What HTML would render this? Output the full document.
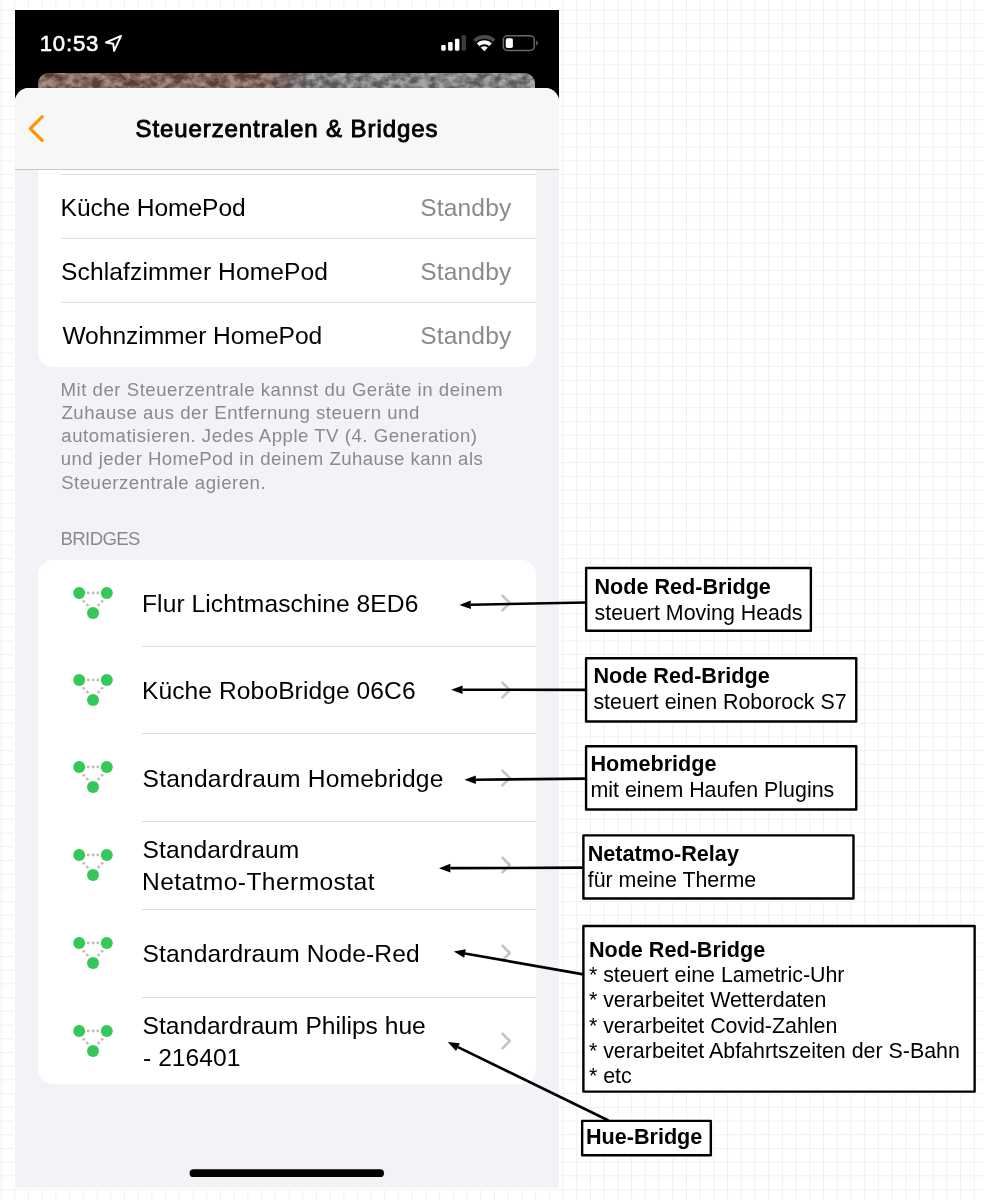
<!DOCTYPE html>
<html lang="de">
<head>
<meta charset="utf-8">
<title>Steuerzentralen &amp; Bridges</title>
<style>
html,body{margin:0;padding:0;}
body{width:984px;height:1200px;position:relative;overflow:hidden;background:#fff;font-family:"Liberation Sans",sans-serif;}
#grid{position:absolute;left:0;top:0;}
#phone{position:absolute;left:15.0px;top:10.0px;width:544px;height:1178px;background:#000;overflow:hidden;box-shadow:0 0 0 1.3px #fff;}
#wall{position:absolute;left:22.8px;top:63.3px;width:497.0px;height:40px;border-radius:11px;background:linear-gradient(100deg,#7e594c 0%,#7c584b 45%,#6a5048 49%,#7c7c7c 53%,#828282 100%);overflow:hidden;}
#sheet{position:absolute;left:0;top:78.4px;width:100%;bottom:0;background:#f2f2f7;border-radius:14px 14px 0 0;overflow:hidden;}
#nav{position:absolute;left:0;top:0;width:100%;height:80.6px;background:#f7f7f7;border-bottom:1px solid #c9c9cc;}
.card{position:absolute;left:23.0px;width:497.7px;background:#fff;}
#c1{top:140.0px;height:217.0px;border-radius:0 0 14.5px 14.5px;}
#c2{top:549.8px;height:524.6px;border-radius:14.5px;}
.t{position:absolute;white-space:nowrap;}
#phone,#notes{will-change:transform;}
.time{-webkit-text-stroke:0.6px #fff;}
.title{-webkit-text-stroke:0.9px #000;}
.sep{position:absolute;height:1px;background:#dcdcde;}
.ic{position:absolute;overflow:visible;}
#ann{position:absolute;left:0;top:0;}
</style>
</head>
<body>
<svg id="grid" width="984" height="1200" viewBox="0 0 984 1200"><path d="M1.10 0V1200M14.81 0V1200M28.51 0V1200M42.22 0V1200M55.93 0V1200M69.64 0V1200M83.34 0V1200M97.05 0V1200M110.76 0V1200M124.46 0V1200M138.17 0V1200M151.88 0V1200M165.58 0V1200M179.29 0V1200M193.00 0V1200M206.70 0V1200M220.41 0V1200M234.12 0V1200M247.83 0V1200M261.53 0V1200M275.24 0V1200M288.95 0V1200M302.65 0V1200M316.36 0V1200M330.07 0V1200M343.77 0V1200M357.48 0V1200M371.19 0V1200M384.90 0V1200M398.60 0V1200M412.31 0V1200M426.02 0V1200M439.72 0V1200M453.43 0V1200M467.14 0V1200M480.84 0V1200M494.55 0V1200M508.26 0V1200M521.97 0V1200M535.67 0V1200M549.38 0V1200M563.09 0V1200M576.79 0V1200M590.50 0V1200M604.21 0V1200M617.91 0V1200M631.62 0V1200M645.33 0V1200M659.04 0V1200M672.74 0V1200M686.45 0V1200M700.16 0V1200M713.86 0V1200M727.57 0V1200M741.28 0V1200M754.98 0V1200M768.69 0V1200M782.40 0V1200M796.11 0V1200M809.81 0V1200M823.52 0V1200M837.23 0V1200M850.93 0V1200M864.64 0V1200M878.35 0V1200M892.05 0V1200M905.76 0V1200M919.47 0V1200M933.18 0V1200M946.88 0V1200M960.59 0V1200M974.30 0V1200M0 10.00H984M0 23.72H984M0 37.43H984M0 51.15H984M0 64.86H984M0 78.58H984M0 92.30H984M0 106.01H984M0 119.73H984M0 133.44H984M0 147.16H984M0 160.88H984M0 174.59H984M0 188.31H984M0 202.02H984M0 215.74H984M0 229.46H984M0 243.17H984M0 256.89H984M0 270.60H984M0 284.32H984M0 298.04H984M0 311.75H984M0 325.47H984M0 339.18H984M0 352.90H984M0 366.62H984M0 380.33H984M0 394.05H984M0 407.76H984M0 421.48H984M0 435.20H984M0 448.91H984M0 462.63H984M0 476.34H984M0 490.06H984M0 503.78H984M0 517.49H984M0 531.21H984M0 544.92H984M0 558.64H984M0 572.36H984M0 586.07H984M0 599.79H984M0 613.50H984M0 627.22H984M0 640.94H984M0 654.65H984M0 668.37H984M0 682.08H984M0 695.80H984M0 709.52H984M0 723.23H984M0 736.95H984M0 750.66H984M0 764.38H984M0 778.10H984M0 791.81H984M0 805.53H984M0 819.24H984M0 832.96H984M0 846.68H984M0 860.39H984M0 874.11H984M0 887.82H984M0 901.54H984M0 915.26H984M0 928.97H984M0 942.69H984M0 956.40H984M0 970.12H984M0 983.84H984M0 997.55H984M0 1011.27H984M0 1024.98H984M0 1038.70H984M0 1052.42H984M0 1066.13H984M0 1079.85H984M0 1093.56H984M0 1107.28H984M0 1121.00H984M0 1134.71H984M0 1148.43H984M0 1162.14H984M0 1175.86H984M0 1189.58H984" stroke="#f0f0f1" stroke-width="1" fill="none"/></svg>
<div id="phone">
  <div id="wall"><svg width="497" height="40" viewBox="0 0 497 40"><filter id="rock" x="0" y="0" width="100%" height="100%" color-interpolation-filters="sRGB"><feTurbulence type="fractalNoise" baseFrequency="0.11 0.14" numOctaves="3" seed="11"/><feColorMatrix type="matrix" values="2.4 0 0 0 -0.7  2.4 0 0 0 -0.7  2.4 0 0 0 -0.7  0 0 0 0 0.3"/></filter><rect width="497" height="40" filter="url(#rock)"/></svg></div>
  <span class="t time" style="left:24.70px;top:19.00px;font-size:22.2px;line-height:29px;letter-spacing:0.798px;color:#fff;">10:53</span>
  <svg class="ic" style="left:88.0px;top:22.0px" width="22" height="22" viewBox="103 32 22 22"><path d="M121.0 35.9L106.0 42.5L113.2 43.7L114.1 50.8Z" fill="none" stroke="#fff" stroke-width="1.95" stroke-linejoin="round"/></svg>
  <svg class="ic" style="left:421.0px;top:20.0px" width="110" height="26" viewBox="436 30 110 26">
    <rect x="441.2" y="45.1" width="4.5" height="5.6" rx="1.1" fill="#fff"/>
    <rect x="448.1" y="42.1" width="4.5" height="8.6" rx="1.1" fill="#fff"/>
    <rect x="454.9" y="38.8" width="4.5" height="11.9" rx="1.1" fill="#fff"/>
    <rect x="461.6" y="35.2" width="4.4" height="15.5" rx="1.1" fill="#3c3c3e"/>
    <path d="M484.3 51.2L473.15 39.45A16.2 16.2 0 0 1 495.45 39.45Z" fill="#4a4a4c"/>
    <path d="M484.3 51.6L475.42 42.24A12.9 12.9 0 0 1 493.18 42.24Z" fill="#000"/>
    <path d="M484.3 51.2L476.73 43.22A11.0 11.0 0 0 1 491.87 43.22Z" fill="#fff"/>
    <path d="M484.3 51.6L479.21 46.23A7.4 7.4 0 0 1 489.39 46.23Z" fill="#000"/>
    <path d="M484.3 51.2L480.86 47.57A5.0 5.0 0 0 1 487.74 47.57Z" fill="#fff"/>
    <rect x="503.3" y="35.8" width="31" height="14.6" rx="4.2" fill="none" stroke="#68686c" stroke-width="1.5"/>
    <rect x="505.7" y="38.2" width="7.2" height="9.8" rx="1.8" fill="#fff"/>
    <path d="M536.2 40.4v5.4a3 3 0 0 0 0-5.4z" fill="#68686c"/>
  </svg>
  <div id="sheet"></div>
  <div class="card" id="c1"></div>
  <div id="navwrap" style="position:absolute;left:0;top:78.4px;width:100%;height:82px;border-radius:14px 14px 0 0;overflow:hidden"><div id="nav"></div></div>
  <svg class="ic" style="left:9.0px;top:100.0px" width="26" height="38" viewBox="24 110 26 38"><path d="M42.2 116.7L30.3 128.55L42.2 140.4" fill="none" stroke="#ff9500" stroke-width="3.3" stroke-linecap="round" stroke-linejoin="round"/></svg>
  <span class="t title" style="left:120.50px;top:103.00px;font-size:24.0px;line-height:31px;letter-spacing:0.906px;color:#000;">Steuerzentralen &amp; Bridges</span>
  <div class="sep" style="left:46.0px;top:164.1px;width:474.7px"></div>
  <div class="sep" style="left:46.0px;top:227.9px;width:474.7px"></div>
  <div class="sep" style="left:46.0px;top:292.0px;width:474.7px"></div>
  <span class="t" style="left:45.60px;top:182.00px;font-size:24.6px;line-height:31px;letter-spacing:-0.066px;color:#000;">Küche HomePod</span><span class="t" style="left:46.10px;top:246.00px;font-size:24.6px;line-height:31px;letter-spacing:0.093px;color:#000;">Schlafzimmer HomePod</span><span class="t" style="left:47.40px;top:310.00px;font-size:24.6px;line-height:31px;letter-spacing:-0.046px;color:#000;">Wohnzimmer HomePod</span>
  <span class="t" style="left:405.20px;top:182.00px;font-size:24.6px;line-height:31px;letter-spacing:0.139px;color:#8a8a8e;">Standby</span><span class="t" style="left:405.20px;top:246.00px;font-size:24.6px;line-height:31px;letter-spacing:0.139px;color:#8a8a8e;">Standby</span><span class="t" style="left:405.20px;top:310.00px;font-size:24.6px;line-height:31px;letter-spacing:0.139px;color:#8a8a8e;">Standby</span>
  <span class="t" style="left:45.50px;top:367.00px;font-size:18.6px;line-height:25px;letter-spacing:0.530px;color:#8a8a8e;">Mit der Steuerzentrale kannst du Geräte in deinem</span><span class="t" style="left:46.50px;top:390.00px;font-size:18.6px;line-height:25px;letter-spacing:0.505px;color:#8a8a8e;">Zuhause aus der Entfernung steuern und</span><span class="t" style="left:46.30px;top:413.00px;font-size:18.6px;line-height:25px;letter-spacing:0.518px;color:#8a8a8e;">automatisieren. Jedes Apple TV (4. Generation)</span><span class="t" style="left:45.80px;top:436.00px;font-size:18.6px;line-height:25px;letter-spacing:0.438px;color:#8a8a8e;">und jeder HomePod in deinem Zuhause kann als</span><span class="t" style="left:46.20px;top:460.00px;font-size:18.6px;line-height:25px;letter-spacing:0.505px;color:#8a8a8e;">Steuerzentrale agieren.</span>
  <span class="t" style="left:45.50px;top:516.00px;font-size:18.6px;line-height:25px;letter-spacing:-0.619px;color:#8a8a8e;">BRIDGES</span>
  <div class="card" id="c2"></div>
  <svg class="ic" style="left:55.70px;top:574.75px" width="44" height="36" viewBox="-22 -18 44 36"><g fill="#bfbfc2"><circle cx="-4.75" cy="-9.95" r="1.45"/><circle cx="0" cy="-9.95" r="1.45"/><circle cx="4.75" cy="-9.95" r="1.45"/><circle cx="-9.2" cy="-1.65" r="1.45"/><circle cx="-5.7" cy="2" r="1.45"/><circle cx="9.1" cy="-1.65" r="1.45"/><circle cx="5.6" cy="2" r="1.45"/></g><g fill="#34c759"><circle cx="-13.8" cy="-10.1" r="6"/><circle cx="13.8" cy="-10.1" r="6"/><circle cx="0" cy="10.1" r="6"/></g></svg><svg class="ic" style="left:483.20px;top:581.05px" width="16" height="24" viewBox="-8 -12 16 24"><path d="M-3.6 -7.4L3.8 0L-3.6 7.4" fill="none" stroke="#c4c4c7" stroke-width="2.6" stroke-linecap="round" stroke-linejoin="round"/></svg><div class="sep" style="left:127.40px;top:635.80px;width:393.30px"></div><svg class="ic" style="left:55.70px;top:661.80px" width="44" height="36" viewBox="-22 -18 44 36"><g fill="#bfbfc2"><circle cx="-4.75" cy="-9.95" r="1.45"/><circle cx="0" cy="-9.95" r="1.45"/><circle cx="4.75" cy="-9.95" r="1.45"/><circle cx="-9.2" cy="-1.65" r="1.45"/><circle cx="-5.7" cy="2" r="1.45"/><circle cx="9.1" cy="-1.65" r="1.45"/><circle cx="5.6" cy="2" r="1.45"/></g><g fill="#34c759"><circle cx="-13.8" cy="-10.1" r="6"/><circle cx="13.8" cy="-10.1" r="6"/><circle cx="0" cy="10.1" r="6"/></g></svg><svg class="ic" style="left:483.20px;top:668.10px" width="16" height="24" viewBox="-8 -12 16 24"><path d="M-3.6 -7.4L3.8 0L-3.6 7.4" fill="none" stroke="#c4c4c7" stroke-width="2.6" stroke-linecap="round" stroke-linejoin="round"/></svg><div class="sep" style="left:127.40px;top:723.40px;width:393.30px"></div><svg class="ic" style="left:55.70px;top:749.40px" width="44" height="36" viewBox="-22 -18 44 36"><g fill="#bfbfc2"><circle cx="-4.75" cy="-9.95" r="1.45"/><circle cx="0" cy="-9.95" r="1.45"/><circle cx="4.75" cy="-9.95" r="1.45"/><circle cx="-9.2" cy="-1.65" r="1.45"/><circle cx="-5.7" cy="2" r="1.45"/><circle cx="9.1" cy="-1.65" r="1.45"/><circle cx="5.6" cy="2" r="1.45"/></g><g fill="#34c759"><circle cx="-13.8" cy="-10.1" r="6"/><circle cx="13.8" cy="-10.1" r="6"/><circle cx="0" cy="10.1" r="6"/></g></svg><svg class="ic" style="left:483.20px;top:755.70px" width="16" height="24" viewBox="-8 -12 16 24"><path d="M-3.6 -7.4L3.8 0L-3.6 7.4" fill="none" stroke="#c4c4c7" stroke-width="2.6" stroke-linecap="round" stroke-linejoin="round"/></svg><div class="sep" style="left:127.40px;top:811.00px;width:393.30px"></div><svg class="ic" style="left:55.70px;top:837.05px" width="44" height="36" viewBox="-22 -18 44 36"><g fill="#bfbfc2"><circle cx="-4.75" cy="-9.95" r="1.45"/><circle cx="0" cy="-9.95" r="1.45"/><circle cx="4.75" cy="-9.95" r="1.45"/><circle cx="-9.2" cy="-1.65" r="1.45"/><circle cx="-5.7" cy="2" r="1.45"/><circle cx="9.1" cy="-1.65" r="1.45"/><circle cx="5.6" cy="2" r="1.45"/></g><g fill="#34c759"><circle cx="-13.8" cy="-10.1" r="6"/><circle cx="13.8" cy="-10.1" r="6"/><circle cx="0" cy="10.1" r="6"/></g></svg><svg class="ic" style="left:483.20px;top:843.35px" width="16" height="24" viewBox="-8 -12 16 24"><path d="M-3.6 -7.4L3.8 0L-3.6 7.4" fill="none" stroke="#c4c4c7" stroke-width="2.6" stroke-linecap="round" stroke-linejoin="round"/></svg><div class="sep" style="left:127.40px;top:898.70px;width:393.30px"></div><svg class="ic" style="left:55.70px;top:924.90px" width="44" height="36" viewBox="-22 -18 44 36"><g fill="#bfbfc2"><circle cx="-4.75" cy="-9.95" r="1.45"/><circle cx="0" cy="-9.95" r="1.45"/><circle cx="4.75" cy="-9.95" r="1.45"/><circle cx="-9.2" cy="-1.65" r="1.45"/><circle cx="-5.7" cy="2" r="1.45"/><circle cx="9.1" cy="-1.65" r="1.45"/><circle cx="5.6" cy="2" r="1.45"/></g><g fill="#34c759"><circle cx="-13.8" cy="-10.1" r="6"/><circle cx="13.8" cy="-10.1" r="6"/><circle cx="0" cy="10.1" r="6"/></g></svg><svg class="ic" style="left:483.20px;top:931.20px" width="16" height="24" viewBox="-8 -12 16 24"><path d="M-3.6 -7.4L3.8 0L-3.6 7.4" fill="none" stroke="#c4c4c7" stroke-width="2.6" stroke-linecap="round" stroke-linejoin="round"/></svg><div class="sep" style="left:127.40px;top:986.70px;width:393.30px"></div><svg class="ic" style="left:55.70px;top:1012.50px" width="44" height="36" viewBox="-22 -18 44 36"><g fill="#bfbfc2"><circle cx="-4.75" cy="-9.95" r="1.45"/><circle cx="0" cy="-9.95" r="1.45"/><circle cx="4.75" cy="-9.95" r="1.45"/><circle cx="-9.2" cy="-1.65" r="1.45"/><circle cx="-5.7" cy="2" r="1.45"/><circle cx="9.1" cy="-1.65" r="1.45"/><circle cx="5.6" cy="2" r="1.45"/></g><g fill="#34c759"><circle cx="-13.8" cy="-10.1" r="6"/><circle cx="13.8" cy="-10.1" r="6"/><circle cx="0" cy="10.1" r="6"/></g></svg><svg class="ic" style="left:483.20px;top:1018.80px" width="16" height="24" viewBox="-8 -12 16 24"><path d="M-3.6 -7.4L3.8 0L-3.6 7.4" fill="none" stroke="#c4c4c7" stroke-width="2.6" stroke-linecap="round" stroke-linejoin="round"/></svg>
  <span class="t" style="left:127.00px;top:578.00px;font-size:24.6px;line-height:31px;letter-spacing:0.073px;color:#000;">Flur Lichtmaschine 8ED6</span><span class="t" style="left:127.00px;top:665.00px;font-size:24.6px;line-height:31px;letter-spacing:0.077px;color:#000;">Küche RoboBridge 06C6</span><span class="t" style="left:127.60px;top:753.00px;font-size:24.6px;line-height:31px;letter-spacing:0.187px;color:#000;">Standardraum Homebridge</span><span class="t" style="left:127.60px;top:824.00px;font-size:24.6px;line-height:31px;letter-spacing:0.082px;color:#000;">Standardraum</span><span class="t" style="left:127.00px;top:856.00px;font-size:24.6px;line-height:31px;letter-spacing:0.410px;color:#000;">Netatmo-Thermostat</span><span class="t" style="left:127.60px;top:928.00px;font-size:24.6px;line-height:31px;letter-spacing:0.111px;color:#000;">Standardraum Node-Red</span><span class="t" style="left:127.60px;top:1000.00px;font-size:24.6px;line-height:31px;letter-spacing:0.009px;color:#000;">Standardraum Philips hue</span><span class="t" style="left:128.00px;top:1032.00px;font-size:24.6px;line-height:31px;letter-spacing:0.052px;color:#000;">- 216401</span>
  <svg class="ic" id="home" style="left:0;top:1150.0px" width="544" height="24" viewBox="15.0 1160 544 24"><rect x="189.6" y="1169.3" width="194.4" height="7.8" rx="3.9" fill="#000"/></svg>
</div>
<svg id="ann" width="984" height="1200" viewBox="0 0 984 1200"><g fill="#fff" stroke="#fff" stroke-width="5.0" stroke-linejoin="round"><rect x="586.14" y="568.03" width="224.73" height="62.77"/><rect x="586.07" y="658.20" width="270.20" height="63.27"/><rect x="586.07" y="746.20" width="270.20" height="63.27"/><rect x="583.40" y="835.33" width="270.07" height="63.14"/><rect x="583.40" y="925.96" width="391.23" height="165.64"/><rect x="582.14" y="1120.83" width="128.69" height="34.37"/></g><path d="M470.80 604.72L586.00 602.45" stroke="#000" stroke-width="2.6" fill="none"/><path d="M459.40 604.95L470.88 609.02L470.71 600.43Z" fill="#000"/><path d="M462.60 689.72L586.00 689.90" stroke="#000" stroke-width="2.6" fill="none"/><path d="M451.20 689.70L462.59 694.02L462.61 685.42Z" fill="#000"/><path d="M475.85 779.69L586.00 778.67" stroke="#000" stroke-width="2.6" fill="none"/><path d="M464.45 779.80L475.89 783.99L475.81 775.39Z" fill="#000"/><path d="M450.40 868.16L583.40 867.67" stroke="#000" stroke-width="2.6" fill="none"/><path d="M439.00 868.20L450.42 872.46L450.38 863.86Z" fill="#000"/><path d="M465.03 953.48L583.40 974.40" stroke="#000" stroke-width="2.6" fill="none"/><path d="M453.80 951.50L464.28 957.72L465.77 949.25Z" fill="#000"/><path d="M457.95 1047.10L608.50 1120.50" stroke="#000" stroke-width="2.6" fill="none"/><path d="M447.70 1042.10L456.06 1050.96L459.83 1043.23Z" fill="#000"/><g fill="#fff" stroke="#000" stroke-width="2.4" stroke-linejoin="round"><rect x="586.14" y="568.03" width="224.73" height="62.77"/><rect x="586.07" y="658.20" width="270.20" height="63.27"/><rect x="586.07" y="746.20" width="270.20" height="63.27"/><rect x="583.40" y="835.33" width="270.07" height="63.14"/><rect x="583.40" y="925.96" width="391.23" height="165.64"/><rect x="582.14" y="1120.83" width="128.69" height="34.37"/></g></svg>
<div id="notes"><span class="t n" style="left:594.50px;top:572.00px;font-size:21.6px;line-height:29px;letter-spacing:0.000px;color:#000;font-weight:bold;">Node Red-Bridge</span><span class="t n" style="left:594.50px;top:599.00px;font-size:21.4px;line-height:28px;letter-spacing:0.000px;color:#000;">steuert Moving Heads</span><span class="t n" style="left:593.40px;top:661.00px;font-size:21.6px;line-height:29px;letter-spacing:0.000px;color:#000;font-weight:bold;">Node Red-Bridge</span><span class="t n" style="left:593.40px;top:688.00px;font-size:21.4px;line-height:28px;letter-spacing:0.000px;color:#000;">steuert einen Roborock S7</span><span class="t n" style="left:590.50px;top:749.00px;font-size:21.6px;line-height:29px;letter-spacing:0.000px;color:#000;font-weight:bold;">Homebridge</span><span class="t n" style="left:590.50px;top:776.00px;font-size:21.4px;line-height:28px;letter-spacing:0.000px;color:#000;">mit einem Haufen Plugins</span><span class="t n" style="left:587.70px;top:839.00px;font-size:21.6px;line-height:29px;letter-spacing:0.000px;color:#000;font-weight:bold;">Netatmo-Relay</span><span class="t n" style="left:587.70px;top:866.00px;font-size:21.4px;line-height:28px;letter-spacing:0.000px;color:#000;">für meine Therme</span><span class="t n" style="left:588.90px;top:935.00px;font-size:21.6px;line-height:29px;letter-spacing:0.000px;color:#000;font-weight:bold;">Node Red-Bridge</span><span class="t n" style="left:588.90px;top:961.00px;font-size:21.4px;line-height:28px;letter-spacing:0.000px;color:#000;">* steuert eine Lametric-Uhr</span><span class="t n" style="left:588.90px;top:986.00px;font-size:21.4px;line-height:28px;letter-spacing:0.000px;color:#000;">* verarbeitet Wetterdaten</span><span class="t n" style="left:588.90px;top:1012.00px;font-size:21.4px;line-height:28px;letter-spacing:0.000px;color:#000;">* verarbeitet Covid-Zahlen</span><span class="t n" style="left:588.90px;top:1037.00px;font-size:21.4px;line-height:28px;letter-spacing:0.000px;color:#000;">* verarbeitet Abfahrtszeiten der S-Bahn</span><span class="t n" style="left:588.90px;top:1062.00px;font-size:21.4px;line-height:28px;letter-spacing:0.000px;color:#000;">* etc</span><span class="t n" style="left:585.95px;top:1122.00px;font-size:21.6px;line-height:29px;letter-spacing:0.000px;color:#000;font-weight:bold;">Hue-Bridge</span></div>
</body>
</html>
